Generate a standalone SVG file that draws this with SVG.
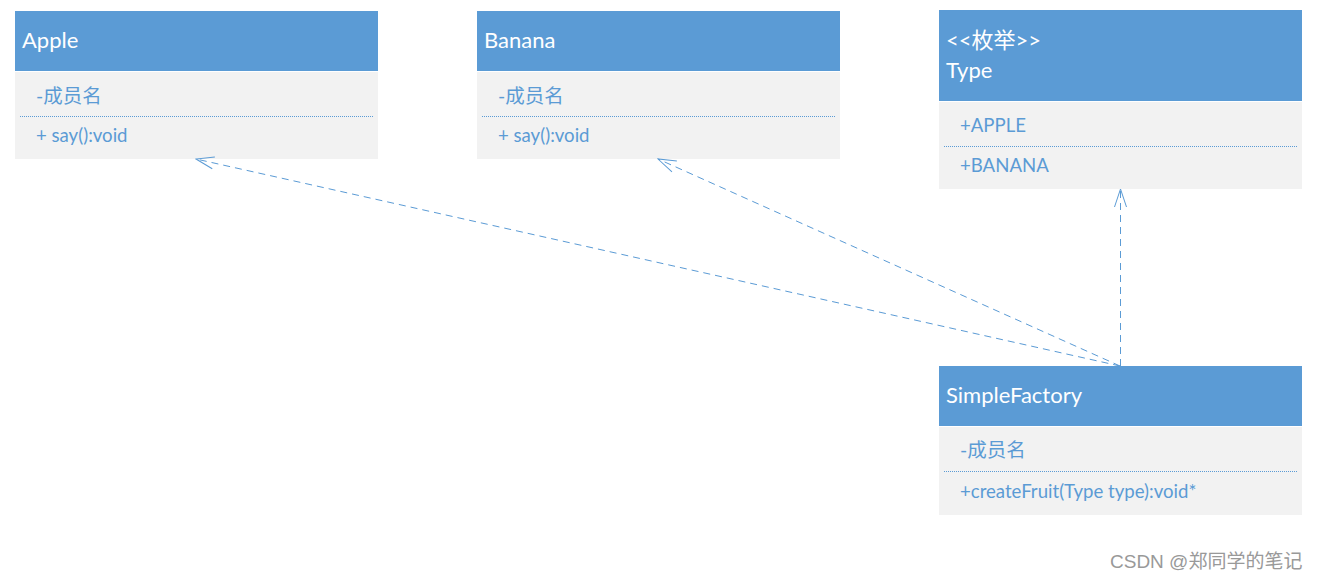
<svg xmlns="http://www.w3.org/2000/svg" width="1318" height="580" viewBox="0 0 1318 580">
<defs>
<style>
.hd{fill:#5B9BD5}
.bd{fill:#F2F2F2}
.ttl{fill:#FFFFFF;font-family:Lato,"Noto Sans CJK SC",sans-serif;font-size:22px}
.mem{fill:#5B9BD5;font-family:Lato,"Noto Sans CJK SC",sans-serif;font-size:19.5px}
.op{fill:#5B9BD5;font-family:Lato,"Noto Sans CJK SC",sans-serif;font-size:18.6px}
.sep{stroke:#5B9BD5;stroke-width:1;stroke-dasharray:1 1}
.con{fill:none;stroke:#5B9BD5;stroke-width:1;stroke-dasharray:7 5}
.wm{fill:#999999;font-family:"Liberation Sans","Noto Sans CJK SC",sans-serif;font-size:19px}
</style>
<marker id="open" viewBox="0 0 20 14" refX="19" refY="7" markerWidth="20" markerHeight="14" markerUnits="userSpaceOnUse" orient="auto">
<path d="M1,1 L19,7 L1,13" fill="none" stroke="#5B9BD5" stroke-width="1"/>
</marker>
</defs>
<rect width="1318" height="580" fill="#FFFFFF"/>
<g id="apple">
<rect class="hd" x="15" y="11" width="363" height="60"/>
<rect class="bd" x="15" y="72" width="363" height="87"/>
<text class="ttl" x="22" y="48">Apple</text>
<text class="mem" x="36" y="103">-成员名</text>
<line class="sep" x1="20" y1="116.5" x2="373" y2="116.5"/>
<text class="op" x="36" y="142">+ say():void</text>
</g>
<g id="banana">
<rect class="hd" x="477" y="11" width="363" height="60"/>
<rect class="bd" x="477" y="72" width="363" height="87"/>
<text class="ttl" x="484" y="48">Banana</text>
<text class="mem" x="498" y="103">-成员名</text>
<line class="sep" x1="482" y1="116.5" x2="835" y2="116.5"/>
<text class="op" x="498" y="142">+ say():void</text>
</g>
<g id="type">
<rect class="hd" x="939" y="10" width="363" height="91"/>
<rect class="bd" x="939" y="102" width="363" height="87"/>
<text class="ttl" x="946" y="48">&lt;&lt;枚举&gt;&gt;</text>
<text class="ttl" x="946" y="78">Type</text>
<text class="op" x="960" y="132">+APPLE</text>
<line class="sep" x1="944" y1="146.5" x2="1297" y2="146.5"/>
<text class="op" x="960" y="172">+BANANA</text>
</g>
<g id="simplefactory">
<rect class="hd" x="939" y="366" width="363" height="60"/>
<rect class="bd" x="939" y="427" width="363" height="88"/>
<text class="ttl" x="946" y="403">SimpleFactory</text>
<text class="mem" x="960" y="457">-成员名</text>
<line class="sep" x1="944" y1="471.5" x2="1297" y2="471.5"/>
<text class="op" x="960" y="498">+createFruit(Type type):void*</text>
</g>
<g id="connectors">
<line class="con" x1="1120" y1="366" x2="196" y2="159" marker-end="url(#open)"/>
<line class="con" x1="1120" y1="366" x2="658" y2="159" marker-end="url(#open)"/>
<line class="con" x1="1120.5" y1="366" x2="1120.5" y2="189" marker-end="url(#open)"/>
</g>
<text class="wm" x="1110" y="568">CSDN @郑同学的笔记</text>
</svg>
